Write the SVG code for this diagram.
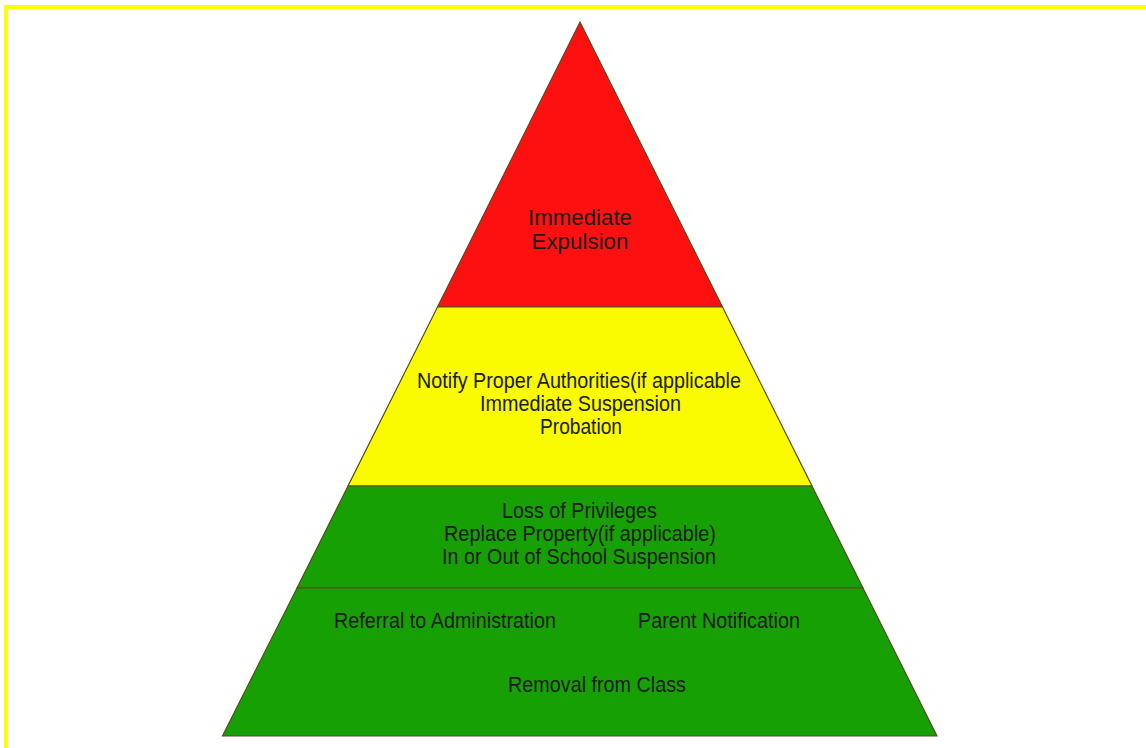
<svg xmlns="http://www.w3.org/2000/svg" width="1146" height="748" viewBox="0 0 1146 748">
<style>
.tier{stroke:#5a4a22;stroke-width:1.2;stroke-linejoin:miter}
.t{font-family:"Liberation Sans",Arial,sans-serif;font-size:21.5px;fill:#1c1c1c;text-anchor:middle}
.n{font-family:"Liberation Sans",Arial,sans-serif;font-size:21.5px;fill:#1c1c1c;text-anchor:middle}
</style>
<rect width="1146" height="748" fill="#ffffff"/>
<path d="M6,748 V7 H1146" fill="none" stroke="#ffff00" stroke-width="4"/>
<g id="tier-top">
<polygon class="tier" points="580,22 722.5,307 437.5,307" fill="#fe1010"/>
<text class="t" x="580" y="225" textLength="104" lengthAdjust="spacingAndGlyphs">Immediate</text>
<text class="t" x="580" y="249" textLength="97" lengthAdjust="spacingAndGlyphs">Expulsion</text>
</g>
<g id="tier-yellow">
<polygon class="tier" points="437.5,307 722.5,307 812,486 348,486" fill="#fafa00"/>
<text class="t" x="579" y="388" textLength="324" lengthAdjust="spacingAndGlyphs">Notify Proper Authorities(if applicable</text>
<text class="t" x="580.5" y="411" textLength="201" lengthAdjust="spacingAndGlyphs">Immediate Suspension</text>
<text class="t" x="581" y="434" textLength="82" lengthAdjust="spacingAndGlyphs">Probation</text>
</g>
<g id="tier-green-mid">
<polygon class="tier" points="348,486 812,486 863,588 297,588" fill="#16a003"/>
<text class="t" x="579.5" y="518" textLength="155" lengthAdjust="spacingAndGlyphs">Loss of Privileges</text>
<text class="t" x="580" y="541" textLength="272" lengthAdjust="spacingAndGlyphs">Replace Property(if applicable)</text>
<text class="t" x="579" y="564" textLength="274" lengthAdjust="spacingAndGlyphs">In or Out of School Suspension</text>
</g>
<g id="tier-green-base">
<polygon class="tier" points="297,588 863,588 937,736 222.5,736" fill="#16a003"/>
<text class="n" x="445" y="628" textLength="222" lengthAdjust="spacingAndGlyphs">Referral to Administration</text>
<text class="n" x="719" y="628" textLength="162" lengthAdjust="spacingAndGlyphs">Parent Notification</text>
<text class="n" x="597" y="692" textLength="178" lengthAdjust="spacingAndGlyphs">Removal from Class</text>
</g>
<g id="connectors"></g>
</svg>
